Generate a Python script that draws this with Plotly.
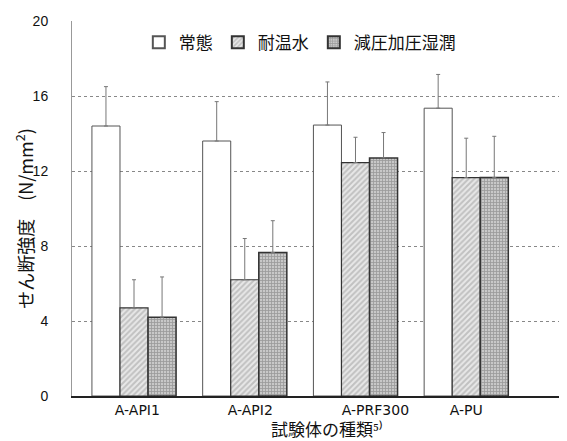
import plotly.graph_objects as go

categories = ["A-API1", "A-API2", "A-PRF300", "A-PU"]
series_names = ["常態", "耐温水", "減圧加圧湿潤"]
normal = [14.4, 13.6, 14.45, 15.35]
normal_err = [2.1, 2.1, 2.3, 1.8]
warm = [4.7, 6.2, 12.45, 11.65]
warm_err = [1.5, 2.2, 1.35, 2.1]
vac = [4.2, 7.65, 12.7, 11.65]
vac_err = [2.15, 1.7, 1.35, 2.2]
y_ticks = [0, 4, 8, 12, 16, 20]

label_offsets = [0.03, 0.05, 0.18, 0.0]

CJK = "Noto Sans CJK JP"
LAT = "Liberation Sans"

xs = list(range(len(categories)))

fig = go.Figure()
styles = [
    dict(marker=dict(color="white", line=dict(color="#555", width=1))),
    dict(marker=dict(color="#e6e6e6", line=dict(color="#333", width=1.2),
                     pattern=dict(shape="/", fgcolor="#9a9a9a", bgcolor="#e8e8e8", size=4, solidity=0.5))),
    dict(marker=dict(color="#bdbdbd", line=dict(color="#333", width=1.5),
                     pattern=dict(shape="+", fgcolor="#6a6a6a", bgcolor="#c8c8c8", size=3, solidity=0.45))),
]
for name, vals, errs, st in zip(series_names, [normal, warm, vac], [normal_err, warm_err, vac_err], styles):
    fig.add_trace(go.Bar(
        x=xs, y=vals, name=name,
        error_y=dict(type="data", array=errs, arrayminus=[0]*len(errs), symmetric=False,
                     color="#777", thickness=1, width=2),
        **st))

# page body has an 8px default margin; figure is sized so the plot lands where the reference has it
fig.update_layout(
    width=559, height=433,
    margin=dict(l=64, r=0, t=13, b=45),
    paper_bgcolor="white", plot_bgcolor="white",
    barmode="group", bargap=0.24, bargroupgap=0,
    font=dict(family=LAT, size=14, color="#111"),
    showlegend=True,
    legend=dict(orientation="h", x=0.135, y=0.99, xanchor="left", yanchor="top",
                font=dict(family=CJK, size=17, color="#111"),
                bgcolor="rgba(0,0,0,0)", itemwidth=30, tracegroupgap=0,
                itemsizing="constant"),
    annotations=[
        dict(text="試験体の種類⁵⁾", xref="paper", yref="paper",
             x=0.515, y=-0.086, xanchor="center", yanchor="middle", showarrow=False,
             font=dict(family=CJK, size=17, color="#111")),
        dict(text="せん断強度　(N/mm<sup>2</sup>)", xref="paper", yref="paper",
             x=-0.097, y=0.475, xanchor="center", yanchor="middle", textangle=-90,
             showarrow=False, font=dict(family=CJK, size=18, color="#111")),
    ],
)
fig.update_xaxes(
    range=[-0.56, 3.91],
    tickvals=[x + o for x, o in zip(xs, label_offsets)], ticktext=categories,
    tickfont=dict(family="DejaVu Sans", size=14, color="#111"),
    showline=True, linecolor="#222", linewidth=1.5,
    showgrid=False, zeroline=False, ticks="",
)
fig.update_yaxes(
    range=[0, 20], tickvals=y_ticks,
    tickfont=dict(family=LAT, size=14, color="#111"),
    ticklabelstandoff=20,
    showline=True, linecolor="#999", linewidth=1,
    showgrid=True, gridcolor="#888", griddash="dot", gridwidth=1,
    zeroline=False, ticks="",
)
fig.write_html("out.html")
